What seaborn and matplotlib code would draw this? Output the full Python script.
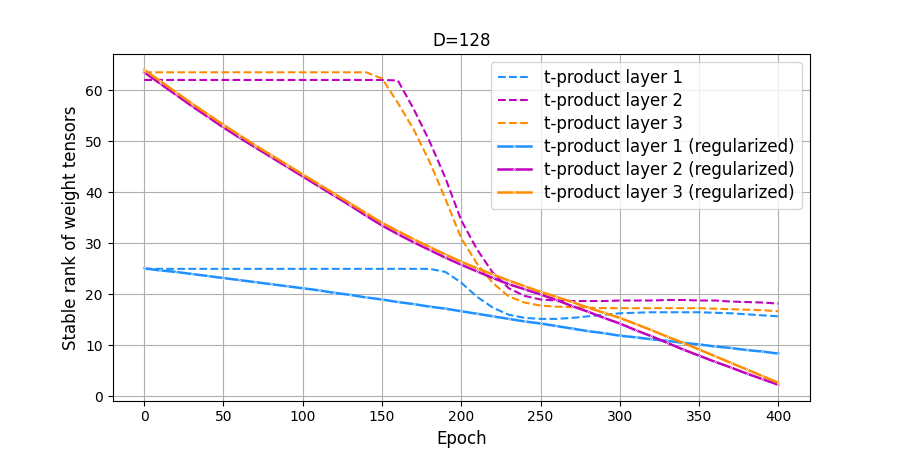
import numpy as np
import pandas as pd
import matplotlib
matplotlib.use("Agg")
import matplotlib.pyplot as plt
import seaborn as sns

epochs = list(range(0, 401, 10))

layer1 = [25.0] * 19 + [24.4, 22.3, 19.5, 17.4, 16.0, 15.4, 15.2, 15.2, 15.4, 15.7, 16.0,
                        16.3, 16.4, 16.5, 16.5, 16.5, 16.5, 16.4, 16.3, 16.1, 15.9, 15.7]
layer2 = [62.0] * 16 + [61.9, 56.3, 50.0, 42.8, 34.5, 28.8, 24.2, 21.2, 19.7, 19.0,
                        18.8, 18.7, 18.7, 18.7, 18.8, 18.8, 18.8, 18.9, 18.9, 18.8,
                        18.8, 18.6, 18.5, 18.4, 18.2]
layer3 = [63.5] * 15 + [62.3, 57.5, 52.3, 46.0, 38.7, 31.0, 26.0, 22.2, 19.6, 18.4,
                        17.8, 17.6, 17.5, 17.4, 17.3, 17.3, 17.3, 17.3, 17.3, 17.3,
                        17.3, 17.2, 17.1, 17.0, 16.9, 16.7]

layer1_reg = [25.1, 24.7, 24.4, 24.0, 23.6, 23.2, 22.8, 22.4, 22.0, 21.6,
              21.2, 20.8, 20.3, 19.9, 19.4, 19.0, 18.5, 18.1, 17.6, 17.2,
              16.7, 16.2, 15.7, 15.2, 14.7, 14.3, 13.8, 13.3, 12.8, 12.4,
              11.9, 11.6, 11.2, 10.9, 10.5, 10.2, 9.8, 9.5, 9.1, 8.8, 8.4]
layer2_reg = [63.5, 61.3, 59.1, 56.9, 54.8, 52.7, 50.7, 48.8, 46.9, 45.0,
              43.1, 41.2, 39.3, 37.4, 35.4, 33.5, 31.8, 30.2, 28.7, 27.2,
              25.8, 24.5, 23.2, 22.0, 21.0, 20.0, 18.9, 17.7, 16.6, 15.4,
              14.3, 13.0, 11.8, 10.5, 9.2, 8.0, 6.8, 5.7, 4.5, 3.4, 2.3]
layer3_reg = [64.0, 61.8, 59.6, 57.4, 55.3, 53.2, 51.2, 49.2, 47.3, 45.4,
              43.5, 41.6, 39.7, 37.8, 35.9, 34.0, 32.4, 30.8, 29.3, 27.8,
              26.4, 25.1, 23.9, 22.7, 21.6, 20.5, 19.5, 18.5, 17.4, 16.4,
              15.4, 14.2, 13.0, 11.7, 10.5, 9.2, 7.9, 6.6, 5.3, 4.0, 2.7]

labels = ["t-product layer 1", "t-product layer 2", "t-product layer 3",
          "t-product layer 1 (regularized)", "t-product layer 2 (regularized)",
          "t-product layer 3 (regularized)"]
series = [layer1, layer2, layer3, layer1_reg, layer2_reg, layer3_reg]
colors = ["dodgerblue", "m", "darkorange", "dodgerblue", "m", "darkorange"]

fig, ax = plt.subplots(figsize=(9, 4.5), dpi=100)

for i, (lab, vals, col) in enumerate(zip(labels, series, colors)):
    df = pd.DataFrame({"Epoch": epochs, "value": vals})
    if i < 3:
        sns.lineplot(data=df, x="Epoch", y="value", ax=ax, color=col,
                     linestyle="--", linewidth=1.5, label=lab)
    else:
        sns.lineplot(data=df, x="Epoch", y="value", ax=ax, color=col,
                     linewidth=1.8, marker=".", markersize=2.5,
                     markeredgewidth=0.5, label=lab)

ax.grid(True)
ax.set_title("D=128", fontsize=12)
ax.set_xlabel("Epoch", fontsize=12)
ax.set_ylabel("Stable rank of weight tensors", fontsize=12)
ax.set_xticks([0, 50, 100, 150, 200, 250, 300, 350, 400])
ax.set_yticks([0, 10, 20, 30, 40, 50, 60])
ax.legend(loc="upper right", fontsize=12, labelspacing=0.3)

fig.savefig("out.png", dpi=100)
